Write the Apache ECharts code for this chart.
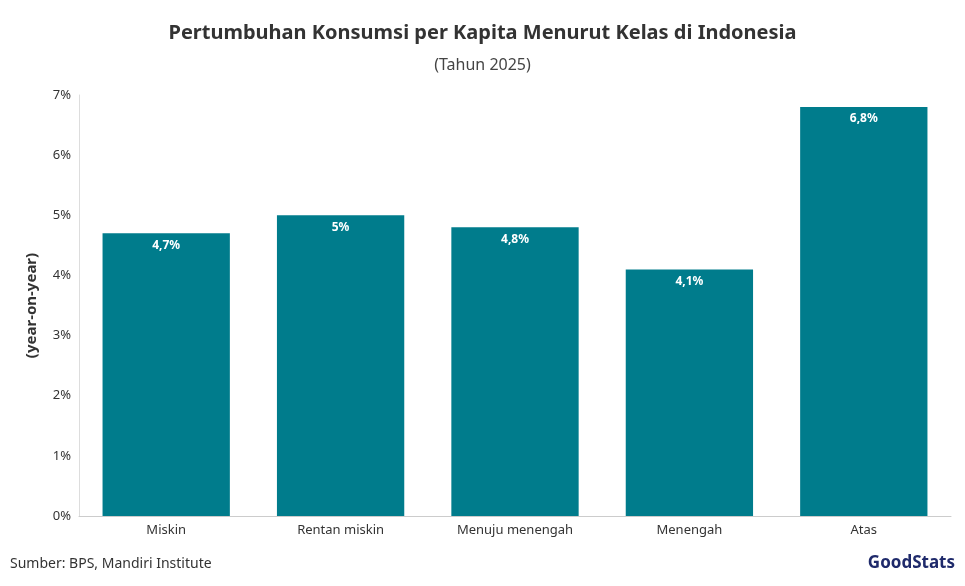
<!DOCTYPE html>
<html><head><meta charset="utf-8">
<script src="https://cdn.jsdelivr.net/npm/echarts@6/dist/echarts.min.js"></script>
<style>html,body{margin:0;padding:0;background:#fff}#c{width:965px;height:586px}</style>
</head><body><div id="c"></div>
<script>
const categories = ['Miskin', 'Rentan miskin', 'Menuju menengah', 'Menengah', 'Atas'];
const values = [4.7, 5, 4.8, 4.1, 6.8];
const font = 'Noto Sans';
const chart = echarts.init(document.getElementById('c'));
chart.setOption({
  textStyle: { fontFamily: font },
  title: [
    { text: 'Pertumbuhan Konsumsi per Kapita Menurut Kelas di Indonesia', left: 'center', top: 18,
      textStyle: { fontSize: 20, fontWeight: 'bold', color: '#333', fontFamily: font } },
    { text: '(Tahun 2025)', left: 'center', top: 52, textStyle: { fontSize: 16, fontWeight: 'normal', color: '#444', fontFamily: font } }
  ],
  grid: { left: 79, right: 14, top: 95, bottom: 70 },
  xAxis: {
    type: 'category', data: categories,
    axisLine: { lineStyle: { color: '#ccc' } }, axisTick: { show: false },
    axisLabel: { color: '#333', fontSize: 13, margin: 8 }
  },
  yAxis: {
    type: 'value', min: 0, max: 7, interval: 1,
    name: '(year-on-year)', nameLocation: 'middle', nameGap: 40, nameRotate: 90,
    nameTextStyle: { fontSize: 15, fontWeight: 'bold', color: '#333' },
    axisLine: { show: true, lineStyle: { color: '#ddd' } },
    splitLine: { show: false },
    axisLabel: { color: '#333', fontSize: 13, formatter: v => v + '%' }
  },
  series: [{
    type: 'bar', data: values, barWidth: '73%',
    itemStyle: { color: '#007C8C' },
    label: { show: true, position: 'insideTop', color: '#fff', fontWeight: 'bold', fontSize: 12, distance: 6,
      formatter: p => String(p.value).replace('.', ',') + '%' }
  }],
  graphic: [
    { type: 'text', left: 10, top: 557, style: { text: 'Sumber: BPS, Mandiri Institute', fontSize: 14, fill: '#333', fontFamily: font } },
    { type: 'text', right: 10, top: 555, style: { text: 'GoodStats', fontSize: 17, fontWeight: 'bold', fill: '#1f2a6b', fontFamily: font } }
  ]
});
</script></body></html>
